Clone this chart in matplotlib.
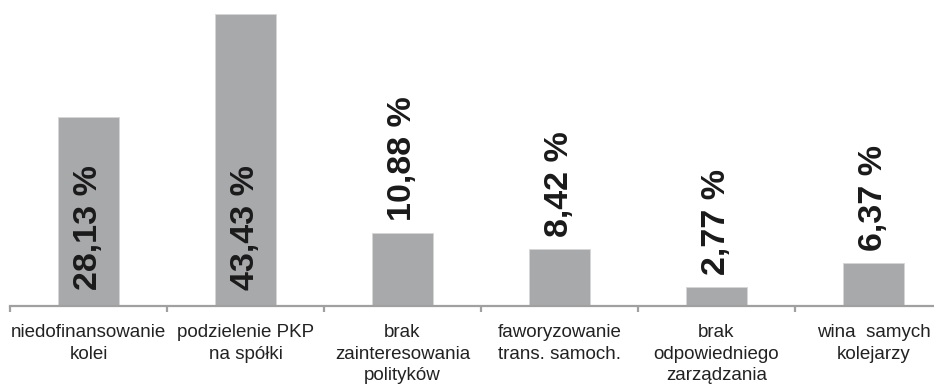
import matplotlib
matplotlib.use("Agg")
import matplotlib.pyplot as plt
from matplotlib.transforms import offset_copy

categories = [
    "niedofinansowanie\nkolei",
    "podzielenie PKP\nna spółki",
    "brak\nzainteresowania\npolityków",
    "faworyzowanie\ntrans. samoch.",
    "brak\nodpowiedniego\nzarządzania",
    "wina  samych\nkolejarzy",
]
values = [28.13, 43.43, 10.88, 8.42, 2.77, 6.37]
value_labels = ["28,13 %", "43,43 %", "10,88 %", "8,42 %", "2,77 %", "6,37 %"]

W, H, DPI = 934, 388, 100
fig = plt.figure(figsize=(W / DPI, H / DPI), dpi=DPI)
fig.patch.set_facecolor("white")

# axes run from the first category boundary past the right edge of the figure
left_px, base_px, cat_px = 10, 306, 157
ymax = 45
px_per_unit = 6.72
ax = fig.add_axes([left_px / W, (H - base_px) / H,
                   6 * cat_px / W, ymax * px_per_unit / H])

x = list(range(len(values)))
ax.bar(x, values, width=0.39, color="#a8a9ab", edgecolor="#d6d6d6",
       linewidth=0.6, zorder=2)

ax.set_xlim(-0.5, len(values) - 0.5)
ax.set_ylim(0, ymax)

for s in ("top", "right", "left"):
    ax.spines[s].set_visible(False)
ax.spines["bottom"].set_color("#a0a0a0")
ax.spines["bottom"].set_linewidth(1.6)
ax.set_yticks([])
ax.set_xticks([i - 0.5 for i in range(len(values) + 1)])
ax.set_xticklabels([])
ax.tick_params(axis="x", direction="out", length=4.5, width=1.6,
               color="#a0a0a0")

label_font = dict(family=["Liberation Sans", "DejaVu Sans"], weight="bold",
                  size=24.5, color="#1a1a1a", rotation=90)
for xi, v, lab in zip(x, values, value_labels):
    if v > 20:
        # tall bars carry their value inside, near the base
        tr = offset_copy(ax.transData, fig=fig, x=0, y=16, units="dots")
        ax.text(xi, 0, lab, transform=tr, ha="center", va="bottom",
                **label_font)
    else:
        tr = offset_copy(ax.transData, fig=fig, x=0, y=12, units="dots")
        ax.text(xi, v, lab, transform=tr, ha="center", va="bottom",
                **label_font)

cat_tr = offset_copy(ax.get_xaxis_transform(), fig=fig, x=0, y=-18,
                     units="dots")
for xi, c in zip(x, categories):
    ax.text(xi, 0, c, transform=cat_tr, ha="center", va="top",
            family=["Liberation Sans", "DejaVu Sans"], size=13.5,
            color="#222222", linespacing=1.36)

fig.savefig("out.png", dpi=DPI, facecolor="white")
